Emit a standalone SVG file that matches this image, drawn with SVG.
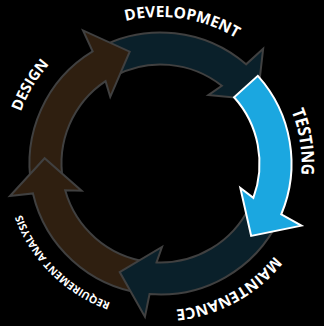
<svg xmlns="http://www.w3.org/2000/svg" width="324" height="326" viewBox="0 0 324 326">
<style>
.dark{fill:#0a202a;stroke:#404040;stroke-width:2;stroke-linejoin:miter}
.brown{fill:#2f1f10;stroke:#404040;stroke-width:2;stroke-linejoin:miter}
.blue{fill:#1ba7e0;stroke:#ffffff;stroke-width:2;stroke-linejoin:miter}
.lbl{fill:#ffffff;font-family:"Open Sans","Liberation Sans",sans-serif;font-weight:bold}
</style>
<defs>
<path id="pDev" d="M46.2 71.9 A146.5 146.5 0 0 1 297.0 110.3"/>
<path id="pTest" d="M212.0 32.2 A141 141 0 0 1 248.5 273.7"/>
<path id="pMaint" d="M307.45 167.4 A147 147 0 0 1 83.7 288.8"/>
<path id="pReq" d="M199.3 306.3 A148 148 0 0 1 17.4 125.7"/>
<path id="pDesign" d="M30.2 235.7 A149 149 0 0 1 163.1 14.5"/>
</defs>
<rect width="324" height="326" fill="#000000"/>
<g id="connectors">
<path id="arrow-development" class="dark" d="M98.59 48.05 A131 131 0 0 1 246.10 64.33 L263.14 48.69 L257.34 99.64 L208.39 95.10 L221.86 85.80 A99 99 0 0 0 113.71 76.25 Z"/>
<path id="arrow-design" class="brown" d="M31.57 186.70 A131 131 0 0 1 92.64 51.44 L83.04 30.40 L129.69 51.66 L110.25 96.82 L105.57 81.13 A99 99 0 0 0 63.06 181.03 Z"/>
<path id="arrow-requirement" class="brown" d="M142.72 293.28 A131 131 0 0 1 32.96 193.42 L9.98 196.04 L44.62 158.24 L81.55 190.69 L65.19 190.29 A99 99 0 0 0 147.07 261.58 Z"/>
<path id="arrow-maintenance" class="dark" d="M278.44 220.51 A131 131 0 0 1 149.54 294.04 L144.93 316.71 L119.69 272.09 L161.96 246.99 L156.53 262.42 A99 99 0 0 0 249.63 206.58 Z"/>
<path id="arrow-testing" class="blue" d="M257.85 75.85 A131 131 0 0 1 281.27 214.26 L301.41 225.64 L251.15 235.87 L240.35 187.92 L253.35 197.84 A99 99 0 0 0 234.07 97.26 Z"/>
</g>
<g id="development"><text class="lbl" font-size="15.5"><textPath href="#pDev" startOffset="50%" text-anchor="middle">DEVELOPMENT</textPath></text></g>
<g id="testing"><text class="lbl" font-size="17.5" textLength="65" lengthAdjust="spacingAndGlyphs"><textPath href="#pTest" startOffset="50%" text-anchor="middle">TESTING</textPath></text></g>
<g id="maintenance"><text class="lbl" font-size="15.5"><textPath href="#pMaint" startOffset="50%" text-anchor="middle">MAINTENANCE</textPath></text></g>
<g id="requirement-analysis"><text class="lbl" font-size="10.5"><textPath href="#pReq" startOffset="50%" text-anchor="middle">REQUIREMENT ANALYSIS</textPath></text></g>
<g id="design"><text class="lbl" font-size="15"><textPath href="#pDesign" startOffset="50%" text-anchor="middle">DESIGN</textPath></text></g>
</svg>
